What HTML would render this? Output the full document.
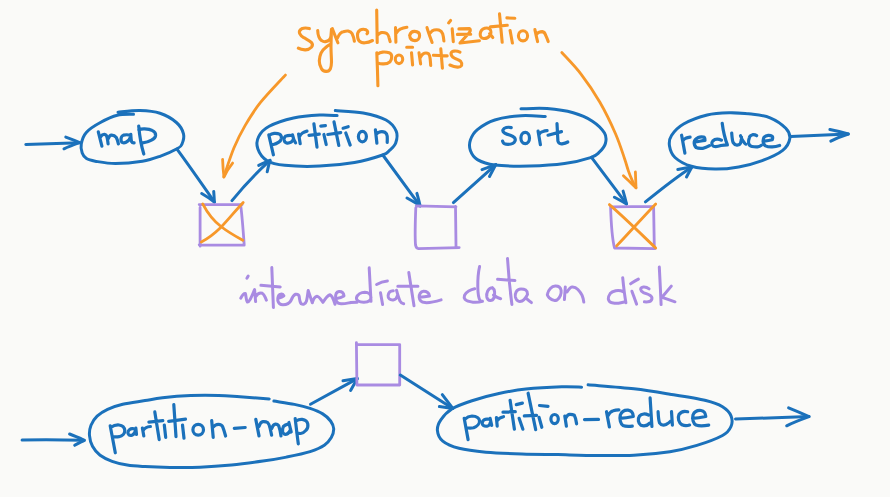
<!DOCTYPE html>
<html><head><meta charset="utf-8"><style>
html,body{margin:0;padding:0;background:#fafaf8;}
body{width:890px;height:497px;overflow:hidden;font-family:"Liberation Sans",sans-serif;}
svg{display:block;}
.b{stroke:#1b71bb;fill:none;stroke-width:3;stroke-linecap:round;stroke-linejoin:round;}
.bt{stroke:#1b71bb;fill:none;stroke-width:3.2;stroke-linecap:round;stroke-linejoin:round;}
.o{stroke:#f7982a;fill:none;stroke-width:2.8;stroke-linecap:round;stroke-linejoin:round;}
.p{stroke:#a98be2;fill:none;stroke-width:2.8;stroke-linecap:round;stroke-linejoin:round;}
</style></head><body>
<svg width="890" height="497" viewBox="0 0 890 497">
<!-- ===== top row ===== -->
<!-- input arrow -->
<g class="b">
<path d="M25.8 144.5 L79.7 142.7"/>
<path d="M65.8 137.1 C70.5 138.8 75 140.5 79.7 142.6 C74.5 144.5 69 146.5 64 148.8"/>
</g>
<!-- map ellipse -->
<path class="b" d="M118.0 112.2 C121.7 111.9 133.0 110.4 140.0 110.6 C147.0 110.8 153.9 111.3 160.0 113.3 C166.1 115.3 172.5 119.1 176.4 122.5 C180.3 125.9 182.6 130.2 183.5 133.8 C184.4 137.4 183.0 141.6 182.0 144.0 C181.0 146.4 181.2 146.4 177.5 148.5 C173.8 150.6 165.8 154.2 160.0 156.3 C154.2 158.4 149.8 160.1 142.4 161.3 C135.0 162.5 123.3 163.6 115.4 163.6 C107.5 163.6 100.0 162.0 95.2 161.2 C90.4 160.4 88.7 160.0 86.5 158.6 C84.3 157.2 83.1 155.5 82.2 153.0 C81.3 150.5 80.6 147.1 81.3 143.7 C82.0 140.3 83.1 135.9 86.3 132.4 C89.5 128.9 95.2 125.3 100.4 122.5 C105.6 119.7 111.8 116.7 117.3 115.3 C122.8 113.9 130.8 114.5 133.5 114.3"/>
<!-- map -> box1 -->
<g class="b">
<path d="M177 149.2 C186 161.5 197 177 214.4 202"/>
<path d="M201.7 193.5 C206 196 210 198.5 214.4 202 C214.2 198.5 214 195 213.7 191.4"/>
</g>
<!-- box1 -->
<path class="p" d="M199.2 204.6 L242.1 204.6 M200.1 207.5 L200.1 246.2 M240.7 205.4 C242 215 243.5 235 244.2 244.8 M199.2 244.8 L244.2 245.2"/>
<path class="o" d="M202.7 203.9 C208 214 215 222 221 226.5 C228 232 235 236 242.8 240.3 M243.2 202.5 C236 210 228 220 221 227.2 C214 234 207 239 201.3 242"/>
<!-- box1 -> partition -->
<g class="b">
<path d="M232 200.6 C243 187 255 174 270 160.4"/>
<path d="M258.7 165.4 C262.5 163.5 266 162 270 160.4 C269 164 268 168 267.2 171.7"/>
</g>
<!-- partition ellipse -->
<path class="b" d="M335.3 110.6 C339.9 111.0 354.8 111.4 363.2 113.0 C371.6 114.6 380.5 117.0 386.0 120.0 C391.5 123.0 394.7 127.5 396.3 131.3 C397.9 135.1 396.8 139.8 395.7 143.0 C394.6 146.2 391.7 148.4 389.5 150.4 C387.3 152.4 388.4 153.0 382.6 155.0 C376.8 157.0 365.0 160.7 354.5 162.5 C344.0 164.3 331.3 165.6 319.7 166.1 C308.1 166.6 293.5 166.2 284.8 165.3 C276.1 164.5 271.9 163.8 267.4 161.0 C262.9 158.2 259.2 152.9 257.8 148.8 C256.4 144.7 256.8 140.3 258.7 136.6 C260.6 132.8 263.4 129.4 269.2 126.3 C275.0 123.2 285.1 119.9 293.5 118.0 C301.9 116.1 312.4 115.4 319.7 115.0 C327.0 114.6 334.2 115.5 337.1 115.6"/>
<!-- partition -> box2 -->
<g class="b">
<path d="M382.8 155 L420.1 205.8"/>
<path d="M407 198 C411.5 200.5 416 203 420.1 205.8 C419.2 201.5 418 197.5 416.9 193.4"/>
</g>
<!-- box2 -->
<path class="p" d="M416.3 205.8 L456 206.8 M415.8 207.8 C415.3 220 415 238 415.5 245 C416 247.5 417 248.5 418.4 248.6 L459.2 247.6 M455.5 206.3 L456 246"/>
<!-- box2 -> sort -->
<g class="b">
<path d="M453.4 202.6 L495.8 164.6"/>
<path d="M482 169.6 L495.8 164.6 L489.5 176.5"/>
</g>
<!-- sort ellipse -->
<path class="b" d="M521.0 108.8 C525.4 108.8 538.4 107.9 547.1 108.6 C555.8 109.3 565.7 110.7 573.2 112.8 C580.8 114.9 587.2 117.8 592.4 121.2 C597.6 124.6 602.3 129.4 604.5 133.1 C606.7 136.8 606.3 140.3 605.4 143.5 C604.5 146.7 601.8 149.8 599.3 152.2 C596.8 154.5 596.4 155.7 590.6 157.6 C584.8 159.5 574.6 162.2 564.5 163.6 C554.4 165.0 541.3 165.8 529.7 166.1 C518.1 166.3 503.5 166.2 494.8 165.1 C486.1 164.0 481.5 162.0 477.4 159.6 C473.3 157.2 471.6 153.8 470.4 150.5 C469.2 147.2 469.2 143.5 470.4 140.0 C471.6 136.5 473.3 132.9 477.4 129.6 C481.5 126.3 487.5 122.3 494.8 120.0 C502.1 117.7 512.6 116.3 521.0 115.7 C529.4 115.1 541.2 116.4 545.3 116.5"/>
<!-- sort -> box3 -->
<g class="b">
<path d="M591.5 157.4 L626.5 203.9"/>
<path d="M614.4 197.2 C618.5 199.5 622.5 201.5 626.5 203.9 C625.5 199.5 624.3 195 623.1 191.1"/>
</g>
<!-- box3 -->
<path class="p" d="M610.9 206.8 L653.6 206.3 M610.6 207 C611 220 612 238 614.5 248 L655 248.6 M653.6 206.3 L654.3 247"/>
<path class="o" d="M609.4 204.6 C625 218 640 233 655.7 248 M655.7 203.9 C642 218 630 232 616.6 245.9"/>
<!-- box3 -> reduce -->
<g class="b">
<path d="M645.4 201.9 C660 190 675 178 691.9 166.9"/>
<path d="M677.8 169.5 C682.5 168.5 687 167.7 691.9 166.9 C690 170.3 688.3 173.5 686.5 177"/>
</g>
<!-- reduce ellipse -->
<path class="b" d="M730.8 112.8 C734.2 113.0 744.7 113.2 751.2 114.0 C757.8 114.8 764.3 115.4 770.1 117.8 C775.9 120.2 782.5 124.9 785.8 128.3 C789.1 131.8 790.3 134.8 789.8 138.5 C789.3 142.2 787.3 146.6 782.7 150.3 C778.1 154.0 769.5 157.8 762.2 160.6 C754.9 163.4 746.6 165.5 738.7 166.9 C730.9 168.3 723.0 169.2 715.1 169.1 C707.2 169.0 698.2 168.2 691.5 166.3 C684.8 164.4 678.7 160.9 675.0 157.5 C671.3 154.1 670.1 149.7 669.5 146.0 C668.9 142.3 669.1 139.2 671.5 135.5 C673.9 131.8 677.6 127.4 683.6 124.0 C689.6 120.6 699.3 116.9 707.2 115.0 C715.1 113.1 724.0 113.0 730.8 112.8 C737.6 112.6 745.1 113.6 748.0 113.8"/>
<!-- output arrow -->
<g class="b">
<path d="M790.8 136.6 L848.3 134"/>
<path d="M829.9 129.4 C836 130.5 842 132 848.3 134 C842 136 836 138.5 830.8 141.1"/>
</g>
<!-- orange sync arrows -->
<g class="o">
<path d="M285.4 75.1 C281.2 79.7 267.0 94.3 260.3 102.7 C253.6 111.1 249.6 117.9 245.2 125.4 C240.8 133.0 237.5 139.4 233.9 148.0 C230.3 156.6 225.5 172.1 223.8 176.9"/>
<path d="M222.6 159.5 C222.8 165 223.2 171 224 177 C226 172.5 229 167.5 232.6 163.1"/>
<path d="M561.8 52.5 C565.0 56.1 574.9 66.0 581.2 74.3 C587.6 82.6 594.2 92.4 599.9 102.3 C605.6 112.2 611.3 124.1 615.4 133.5 C619.5 142.9 622.4 152.3 624.5 158.5 C626.6 164.7 627.0 166.8 628.3 170.6 C629.6 174.4 631.2 178.2 632.5 181.1 C633.8 184.0 635.4 186.7 636.0 187.8"/>
<path d="M623.4 175.8 C627.5 179.5 632 184 636 187.8 C635.8 182.5 635.6 177 635.4 172"/>
</g>

<!-- ===== orange text ===== -->
<g class="o" style="stroke-width:3.1">
<path d="M309.4 28.6 C306.5 27.8 303.5 28 301.6 28.8 C299.8 29.8 299 31.5 299.6 33.3 C300.5 35.3 302 36.5 303.8 37.7 C306.5 39.3 309.5 40.5 311.3 42.3 C312.8 44 312.5 46 311.4 47.3 C309.5 49.3 307 50 305 49.9 C302.5 49.8 300 49.2 298.3 48.2"/>
<path d="M317.7 30.5 C317.8 33 318 35 318.8 36.6 C319.5 38.5 320.5 40 321.5 40.5 C323 41.5 324.5 41.8 325.4 41.6 C327.5 41.3 328.6 40.6 329.3 39.9 C330.4 38.5 331 37 331 35.5 L331.5 29.4 C331.3 36 331 42 331 47.7 C331 53 331.5 58 331.5 62 C331.4 65 331 67.5 330.4 68.7 C329.5 70.5 327.8 71.5 326 71.4 C324 71.3 322.3 70.3 321.5 68.7 C320 66 319.2 63.5 319.3 60.9 C319.4 58 320 55.5 321 53.2 C322 51 323.5 49 325.4 47.7 C326.8 46.5 328 45.6 329.3 44.9"/>
<path d="M332.4 28.7 C334 33 336 38 337.9 42.8 M337.5 38 C339 34.5 341 32 343.4 31.8 C345.5 31 347 30.8 348.1 31 C350 31.5 351.5 32.5 352 33.4 C353 35.5 354 38.5 354.4 41.2"/>
<path d="M367 33.8 C368.2 32.8 368 30.8 366 29.8 C364 29 361.5 29.3 359.9 30.2 C358 31.5 357.3 33.5 357.5 35.5 C357.6 38 358 40 359.5 41.3 C361 42.5 363 43 365 42.8 C367.5 42.6 370 41.8 372.5 40.5"/>
<path d="M376.7 10 L377.2 42.5 M377.2 35.7 C378.5 33.8 379.8 32.8 381.1 32.6 C383 32.3 385 32.6 386.6 33.4 C388 34.5 388.8 35.8 389 37.3 C389.4 39 389.8 40.5 390.2 41.6"/>
<path d="M395.5 27.6 L395.9 42.1 M396.3 33.1 C397.5 31.3 398.8 30 400.2 29.2 C402.3 28.2 404.5 27.6 406.9 27.2"/>
<path d="M409.6 35.5 C410.5 32.5 412.5 31.3 414.5 31.4 C417.5 31.5 419.6 33 419.6 35.5 C419.6 38.5 417.5 40.6 415 40.6 C412 40.6 410 38.5 409.6 35.5"/>
<path d="M427 27.6 C428.5 33 430.5 38 432.1 42.5 M430.1 33.1 C431.5 31.3 432.8 30.2 434.1 30 C435.8 29.7 437.5 29.7 438.8 30 C440.5 30.6 442 32 442.7 33.9 C443.3 36 443.7 38.5 443.9 41"/>
<path d="M448.6 22.9 L450.6 20.5 M452.2 28.8 L453.3 41.7"/>
<path d="M458.9 28.9 L469.5 28.6 C471 29.5 470.5 31.5 468.5 33.5 L460 43 L479.4 40.7 M457.4 34.4 L470.7 34.2"/>
<path d="M489.6 28.9 C488.3 28 486.5 27.8 484.8 28.3 C482.5 29 480.5 31 480.2 33.8 C480 36.2 481.5 38.3 483.8 38.5 C486 38.6 488.5 37.5 490 35.5 C491.3 33.5 491.3 30.5 489.6 28.9 M489.6 33.6 L492.8 37.5"/>
<path d="M499.5 13.9 L502.2 42.3 M490.4 26.9 L507.3 25.3"/>
<path d="M506.9 17.9 L514.8 18.3 M510.1 30.5 L512.4 43"/>
<path d="M523.0 30.7 C525.5 30.7 527.6 33.0 527.6 35.8 C527.6 38.6 525.5 40.9 523.0 40.9 C520.5 40.9 518.4 38.6 518.4 35.8 C518.4 33.0 520.5 30.7 523.0 30.7"/>
<path d="M534.9 29.6 C535.8 34 536.7 38 537.6 41.6 M536.2 34.9 C537 33.5 537.8 32.7 538.9 32.3 C540 31.8 541.2 31.6 542.2 31.6 C543.8 31.8 545 33 545.5 34.9 C546.5 37 547.5 39.5 548.2 41.6"/>
<path d="M376.8 52.7 C377.3 64 377.7 76 377.9 85.8 M377.3 54.3 C379 53 381 52.2 382.7 52.1 C385 52 387.5 52.2 389.1 52.7 C390.8 53.5 391.8 55 391.7 56.9 C391.6 59 391 60.8 390.1 61.7 C388.5 63 386 63.9 383.7 63.9 C381.5 64 379.5 63.7 378.4 63.3"/>
<path d="M399.0 55.0 C401.0 55.0 402.7 56.9 402.7 59.3 C402.7 61.7 401.0 63.6 399.0 63.6 C397.0 63.6 395.3 61.7 395.3 59.3 C395.3 56.9 397.0 55.0 399.0 55.0"/>
<path d="M406.7 47.3 L412.6 47.3 M411.5 52.7 L412.6 65"/>
<path d="M419 52.7 L420.6 63.9 M420 58 C421.2 55.5 422.7 53.6 424.3 53.2 C425.8 52.9 427.5 53 428.6 53.7 C429.7 55 430.1 57 430.2 59.1 C430.4 61.5 430.6 63.5 430.7 65.5"/>
<path d="M440.8 48.9 L442.4 68.1 M433.4 55.3 L447.2 55.9"/>
<path d="M460 52.1 C458 51.2 456 50.9 454.2 51.1 C452.3 51.5 451 52.5 451 53.7 C451 55.5 452.5 57 454.2 58 C456.5 59.3 459 60 460.6 61.2 C461.8 62.5 462 64.2 461.6 65.5 C460.8 66.7 459 67.2 457.4 67.1 C454.5 67 452 66 449.9 65"/>
</g>
<!-- ===== bottom row ===== -->
<g class="b">
<path d="M22.1 440.1 C40 439.5 65 439.8 84.3 440.3"/>
<path d="M69.6 434 C75 436 80 438.3 84.3 440.3 C81 442 77.5 443.5 74.7 445.3"/>
</g>
<!-- partition-map ellipse -->
<path class="b" d="M273.9 401.0 C277.3 401.6 288.4 403.2 294.4 404.4 C300.4 405.6 305.4 406.8 310.1 408.4 C314.8 410.0 319.3 411.8 322.7 413.9 C326.1 416.0 328.8 418.5 330.6 421.0 C332.4 423.5 333.6 426.1 333.7 428.8 C333.8 431.6 332.9 434.8 331.3 437.5 C329.7 440.2 327.8 442.9 324.3 445.3 C320.8 447.7 316.4 449.6 310.1 451.6 C303.8 453.6 294.4 455.5 286.5 457.1 C278.6 458.7 272.1 459.8 262.9 461.1 C253.7 462.4 242.0 464.0 231.5 465.0 C221.0 466.0 210.2 466.8 200.0 467.2 C189.8 467.6 179.2 467.5 170.0 467.4 C160.8 467.3 152.1 467.0 145.0 466.6 C137.9 466.2 132.7 466.0 127.2 465.1 C121.7 464.2 116.6 462.9 112.1 461.3 C107.6 459.7 103.4 457.8 100.1 455.3 C96.8 452.8 94.3 449.6 92.5 446.3 C90.7 443.0 89.8 439.2 89.5 435.7 C89.2 432.2 89.7 428.5 91.0 425.2 C92.3 421.9 94.3 418.8 97.1 416.1 C99.9 413.5 103.3 411.3 107.6 409.3 C111.9 407.3 116.5 405.8 122.7 404.3 C128.9 402.9 138.4 401.7 145.0 400.6 C151.6 399.5 154.9 398.7 162.5 397.8 C170.1 396.9 181.2 395.9 190.6 395.5 C200.0 395.1 210.5 395.2 218.7 395.4 C226.9 395.6 231.6 396.2 240.0 396.8 C248.4 397.4 264.3 398.5 269.2 398.9"/>
<!-- pm -> box4 -->
<g class="b">
<path d="M310.5 404.2 L357.3 378.6"/>
<path d="M343 380.8 L357.3 378.6 L350.6 390.4"/>
</g>
<!-- box4 -->
<path class="p" d="M356.4 342.6 L356.9 385 L399.7 385 L399.7 344.6 L356.9 344.6"/>
<!-- box4 -> pr -->
<g class="b">
<path d="M400.3 375.1 L452.8 408.5"/>
<path d="M442.3 394.6 L452.8 408.5 L439.4 406.6"/>
</g>
<!-- partition-reduce ellipse -->
<path class="b" d="M588.1 384.8 C595.7 385.5 620.3 387.2 633.9 388.8 C647.5 390.4 657.9 392.2 669.9 394.2 C681.9 396.1 697.0 398.4 705.8 400.5 C714.6 402.6 718.3 404.2 722.5 406.8 C726.7 409.4 729.6 412.5 731.0 415.8 C732.4 419.1 732.4 423.2 731.0 426.5 C729.6 429.8 728.2 432.4 722.5 435.5 C716.8 438.6 705.7 442.7 696.9 445.4 C688.1 448.1 680.4 450.1 669.9 451.7 C659.4 453.3 645.9 454.6 633.9 455.2 C621.9 455.8 610.7 455.6 598.0 455.5 C585.3 455.4 570.5 454.9 557.8 454.6 C545.1 454.4 533.9 454.4 521.9 454.0 C509.9 453.6 496.4 453.1 485.9 452.2 C475.4 451.2 466.2 450.1 459.0 448.3 C451.8 446.5 446.4 444.1 442.8 441.1 C439.2 438.1 437.7 433.9 437.4 430.3 C437.1 426.7 438.5 423.2 441.0 419.6 C443.5 416.0 447.0 412.0 452.2 408.8 C457.4 405.6 464.2 403.2 472.0 400.7 C479.8 398.1 489.9 395.4 498.9 393.5 C507.9 391.6 515.4 390.1 525.9 389.0 C536.4 387.9 552.5 387.1 561.8 386.8 C571.1 386.5 578.3 387.1 581.6 387.2"/>
<g class="b">
<path d="M735.5 419 L809 416.6"/>
<path d="M788.6 407.9 C795 410.5 802 413.5 809 416.6 C801 419.5 793 422.5 786.7 425.8"/>
</g>

<!-- ===== blue text top ===== -->
<g class="bt">
<!-- map -->
<path d="M98.3 131.9 L101.9 146.1 M100.8 136.6 C101.8 135 103 134.3 104.5 134.4 C106 134.5 106.8 136 107.2 138 C107.6 140 107.9 142 108.1 143.9 M108.1 138.8 C109 136.5 110 135.2 111.5 135.1 C113.5 135 115 135.8 116.3 137.5 C117.3 139.5 118 142 118.4 143.9"/>
<path d="M130.5 135.3 C128.5 134.7 126 134.6 123.5 135.1 C121.5 136 120.7 138.5 121.2 141 C121.8 143 124 143.3 126 142.3 C128.5 141 130 139 130.8 136.6 M130.8 134.4 C131 137 131 139.5 131.5 141.5 C132 142.5 133 142.9 134.1 142.8"/>
<path d="M138.7 126 C139.5 135 141 145 143.8 154 M138.8 130 C140.5 129 142.5 128.8 144.7 128.9 C148 129 150.5 129.5 152 130.4 C154.5 131.5 155.8 133.5 155.6 135.5 C155.3 137.5 154 138.8 152 139.8 C149 141.5 145 142.7 141.7 143.2"/>
<!-- partition -->
<path d="M268.8 134.9 L273.4 154.8 M269.2 135.3 C270.8 134.2 272.5 133.6 274.2 133.4 C276.5 133.3 278.3 133.5 279.5 134.1 C281 135 281.6 136.7 281.4 138.3 C281 140 280 141.4 278.8 142.2 C277 143.4 275.2 144.2 273.4 144.5 C272.5 144.6 271.7 144.6 271.1 144.5"/>
<path d="M290.2 135.3 C288.6 135.3 287 135.5 285.6 136.1 C284.5 137 284 138.5 284.1 139.9 C284.3 141.5 285.2 142.6 286.4 142.9 C288 143.2 289.8 142.9 291 142.2 C292.2 141.3 293 140.2 293.3 139.1 M292.5 134.9 C293 137.5 294 140.5 295.6 142.9"/>
<path d="M298.6 134.1 L300.2 143.7 M299.4 136.8 C300.2 135 301.3 133.8 302.5 133 C304 132 305.5 131.5 307 131.1"/>
<path d="M313.9 123.8 L317 147.1 M309 135.3 L319.3 134.1"/>
<path d="M320.8 126.1 L325.4 125.7 M323.9 134.5 L326.2 144.5"/>
<path d="M334 121.9 L338.8 145.5 M327.8 134.5 L340.7 132.6"/>
<path d="M343.1 128.2 L348.2 126.7 M345.8 133 L350.2 145.1"/>
<path d="M362.4 131.4 C364.6 131.4 366.4 133.7 366.4 136.6 C366.4 139.5 364.6 141.8 362.4 141.8 C360.2 141.8 358.4 139.5 358.4 136.6 C358.4 133.7 360.2 131.4 362.4 131.4"/>
<path d="M375.4 129.8 L376.9 143.2 M376.1 134.5 C377.3 133 378.6 132 380.1 131.8 C382 131.6 383.7 131.7 384.8 132.2 C386.3 133.2 387 134.6 387.2 136.1 C387.4 138.5 387.3 140.5 387.2 142.4"/>
<!-- sort -->
<path d="M511.2 127.6 C508 126.8 504 127.5 503 129.8 C502 132.5 506 134 510.3 135.2 C514 136.5 516 138.5 515 141 C514 143.5 510 144.6 505.8 144.2 C504 144 503 142.5 502.6 141.1"/>
<path d="M525.2 132.4 C527.6 132.4 529.5 134.9 529.5 138.0 C529.5 141.1 527.6 143.6 525.2 143.6 C522.8 143.6 520.9 141.1 520.9 138.0 C520.9 134.9 522.8 132.4 525.2 132.4"/>
<path d="M538.1 131.2 L540.4 144.7 M539 134.8 C539.5 133 541 132 543 131.5 C544.5 131 546 130.8 547.1 130.7"/>
<path d="M557 123.5 L557.9 141 C558.5 143.5 560 144 562 143.8 C564 143.5 566 143 567.8 142 M548 135.2 L561.5 131.6"/>
<!-- reduce -->
<g transform="translate(0,1.6)">
<path d="M681.6 133.6 L684.9 151.5 M682.7 139.6 C683.5 137.8 684.5 137 685.7 136.6 C687 136 688.5 135.7 690.1 135.5"/>
<path d="M695.4 140.3 C698.5 139.8 702 139.3 705 138.8 C705 137 704.5 135.8 703.6 135.5 C701.5 135 699.5 135.3 698.3 135.9 C696 137 694.5 138.5 694.2 140.3 C694 142.5 695 144.8 696.1 145.9 C698 146.8 700.5 146.9 702.8 146.7 C705.5 146.3 707.5 145.3 709.5 144.1"/>
<path d="M721.5 138.6 C718.5 137.3 714.8 137.4 712.8 139.4 C711.2 141.2 711.6 143.8 713.6 144.7 C716 145.4 719 144.6 721 143.9 C723.5 143.4 725.5 143.3 727.4 143.3 M722.2 121.7 C723 128 724.5 136 727.4 143.3"/>
<path d="M731.7 131.4 C732 135 732.3 139 733.1 140.9 C734.5 143 735.8 143.7 737.1 143.6 C739 143.3 740.3 142 740.5 141.6 C741.2 139.5 741.5 137.5 741.5 135.5 M740.5 134.1 C741.5 137 743 140 744.6 141.6 C745 142.2 745.5 142.5 745.9 142.6"/>
<path d="M756.7 134.1 C755.5 133.3 754 133 752.6 133.1 C750.5 133.6 749.5 135 749.3 136.2 C748.6 138 748.4 140 748.6 141.6 C749.2 143.6 750.5 144.6 752 144.9 C754 145.3 755.8 145.4 757.4 145.3 C759 145 760.3 144.4 761.4 143.6"/>
<path d="M764.1 139.5 C767 139.2 769.8 138.8 772.2 138.2 C772.8 136.8 772.8 135.5 772.2 134.8 C771 134 769.5 133.7 768.2 133.8 C766.5 134 765 134.7 764.1 135.5 C763.2 137 763 138.7 763.1 140.2 C763.4 142 764.2 143.5 765.5 144.3 C767.5 145.2 770 145.4 772.2 145.3 C775 145.2 777.5 144.6 779.6 143.9"/>
</g>
</g>
<!-- ===== purple text ===== -->
<g class="p" style="stroke-width:3.0">
<!-- intermediate -->
<path d="M246.9 278.2 L248.2 276"/>
<path d="M240.8 298.2 C242 295.5 243.8 293.3 245.3 293.4 C246.3 296 245.8 300 247.4 302 C249.5 302.2 251.8 296 254.6 289.6 L255.6 301.6 M255.7 296.8 C257.5 293.8 260 292.6 262.3 293.3 C264.2 294.2 265.2 297 266.4 300.2"/>
<path d="M271.8 267.6 L273.4 307.5 M260.9 285.3 L280.2 286.9"/>
<path d="M278.2 298.2 C280.5 297.5 282.5 296.8 283.9 295.7 C283 294.2 281.5 293.8 280 294.3 C278.5 295 277.6 297.5 277.8 300.6 C278.5 303.5 280.5 304.8 283 304.8 C286.5 304.8 289.5 303.5 291 300.5 C292.3 297.3 293 295.5 295.6 294.2 C297.8 294 299 295 299.2 296.5 C299.5 299.5 299.8 302 301.2 303.8 C303.2 305 305.5 304 306.5 301 C307.5 297 307.8 293 308.2 290.5 L312.3 302.8 C313.2 299.5 315 296.5 317 296.2 C319 296.3 320.5 298.8 323 302.3 C325 299 327.5 295.3 330 294.7 C332.3 295.3 333.5 299.5 335 304.3"/>
<path d="M335.5 298.8 C338.5 298.2 341.5 297.5 344 296 C343.7 293 341.5 291.5 339 291.6 C336.5 292 335.3 295 335.6 298.5 C336 301.5 338 303.6 341 303.8 C344.5 304 348 303 350.7 302.5 C353 302.2 355 302.2 357 302.2"/>
<path d="M371 297.5 C371 294.5 368.5 292.3 364.9 292.2 C361 292.2 357.5 294.5 356.5 297.5 C356 300.5 359 302.3 364 302.2 C368 302.1 371 300.5 371 297.5 M369.2 267.8 C369.8 280 370.5 292 371 301.3"/>
<path d="M380.5 292.7 L382.6 304.4 M376.6 284.5 C380 282.5 384 281.3 387.4 281"/>
<path d="M393.3 290.8 C390.5 290.8 388.5 292.5 388.1 295.5 C387.8 298.5 390 300.2 393.3 299.9 C395.5 299.6 396.8 298 397.2 296 M396.5 290.2 C397.5 294 398.8 298.5 400 301 C401 302.8 402.5 303.6 403.7 303.8"/>
<path d="M408.8 272.6 L414 305.7 M397.8 286.3 L417.9 286.3"/>
<path d="M419.2 297.3 C422.5 297.1 426 296.7 429.5 296 C429.5 293 426.5 291.2 423.5 291.3 C420.5 291.5 419 294.5 419.2 297.3 C419.5 300.5 421.5 302.3 425 302.6 C430 303 436 301.5 441.1 299.9"/>
<!-- data -->
<path d="M479.6 266.5 C478.3 272 477.7 280 477.8 287 C477.9 293 478.5 298 480 300.3 C480.8 301.2 481.8 301.5 482.5 301.3 C479.5 302.2 476 302.5 473 302.2 C469.5 301.8 466.5 301 465.2 299.6 C464 298 464 296.5 464.5 295.3 C465.5 293 467 292 468.7 291 C470.5 290 472.5 289.2 474.7 288.8"/>
<path d="M492.5 287.8 C490.5 287.8 488.8 289 487.7 291 C486.7 293 486.5 295 486.8 297 C487.2 299 488.5 300.5 490.3 300.5 C492 300.5 493.3 299.5 493.9 297.9 C494.6 296 494.8 294 494.6 292 C494.4 290 493.5 288.5 492.5 287.8 M493.5 295 C495.5 296.5 498 298 500.7 298.7"/>
<path d="M507.5 258.5 C508.5 275 510 290 511.9 304.4 M497.6 279.3 L514.9 280.6"/>
<path d="M521 289 C519 289 517 290.3 516.2 291.8 C515.3 293.5 515.1 295.5 515.4 297 C516 299.5 517.3 301 518.8 301.3 C520.8 301.6 522.8 300.8 524 299.6 C525.7 298 526.8 296 527.5 294.4 C527.5 292.5 526.8 290.8 525.7 290.1 C524.5 289.3 522.8 289 521 289 M525.7 297.9 C527.5 299.5 529.5 301.3 531.4 302.6"/>
<!-- on -->
<path d="M555.2 286.1 C558 286 560.5 287.5 561.1 290.3 C561.6 293.5 560 298 557 300 C554.5 301 551.5 300 549.3 297.9 C547.5 296 547 294.5 547.6 293.7 C548.5 290 551.5 286.3 555.2 286.1"/>
<path d="M565.3 287 L564.4 299.6 M567 292 C568.5 289.5 570 287.3 572 287 C574.5 286.8 576.5 288 577.9 289.5 C579.8 291.5 581.2 293.5 582.1 295.4 C583 297.5 583.5 300 583.8 302.1"/>
<!-- disk -->
<path d="M623.1 291.6 C621 290.5 618.5 290.3 615.7 290.7 C613 291.3 611 292.5 610.2 293.5 C608.8 295.5 608.3 297.5 608.3 299 C608.8 301.5 610.3 302.6 612 302.7 C614.5 303.2 616.5 303.3 618.5 303.2 C620.8 302.9 623 302.3 625 301.8 M622.7 277.7 C623.5 286 624.5 295 625.9 302.7"/>
<path d="M630.6 283.8 C633 282.3 635.8 280.5 638.4 279.1 M631.9 291.2 C633.5 295.5 635 300 636.6 304.1"/>
<path d="M649.1 288.9 C647.5 287.6 645.5 286.8 643.5 287 C641.8 287.2 640.7 288.2 640.7 289.3 C640.8 290.8 642 291.8 643.5 292.6 C645.5 293.5 648 294.3 650 295.3 C651.5 296.3 652.2 297.7 651.9 299 C651.4 300.8 649.8 301.7 648.1 301.8 C646.8 301.9 645.5 301.9 644.4 301.8"/>
<path d="M659.3 267.1 C660 280 660.6 292 661.1 304.6 M671.3 286.1 L662 297.2 C666 298.8 670.5 300.3 675 301.8"/>
</g>
<!-- ===== blue text bottom ===== -->
<g class="bt">
<!-- partition-map -->
<path d="M110.2 425.8 L115.3 452.8 M111 427.2 C113.5 425.5 116.5 424.8 119 425 C122.5 425.3 124.5 427.5 124.8 430.5 C125 433.5 122.5 436 119 436.7 C117 437 115 437 113.1 436.7"/>
<path d="M132.9 428.7 C130.5 428.3 128.3 429.8 127.9 432.5 C127.6 434.5 129.5 435.8 132 435.2 C134 434.5 135.2 432.5 135.5 430 M135.8 428 L136.5 434.5"/>
<path d="M142.4 428 L143.8 436 M143.1 430.5 C144.3 428.3 146.5 426.8 150.4 426.5"/>
<path d="M154.8 411.9 L159.2 439.6 M148.9 422.1 L162.8 420.6"/>
<path d="M164.3 425 L165.7 437.4"/>
<path d="M173.8 404.6 L176 436.7 M168.7 421.4 L185.5 419.2"/>
<path d="M182.5 425 L184 438.2"/>
<path d="M198.2 424.3 C201.1 424.3 203.5 426.7 203.5 429.7 C203.5 432.7 201.1 435.1 198.2 435.1 C195.3 435.1 192.9 432.7 192.9 429.7 C192.9 426.7 195.3 424.3 198.2 424.3"/>
<path d="M211.7 420.6 L213.2 437.4 M213.2 427.2 C214.5 425.3 216.3 424.3 218.3 424.3 C220.5 424.3 222 425 222.7 426.8 C223.8 429.5 224.8 433 225.6 436"/>
<path d="M234.3 428.4 L245.2 427.5"/>
<path d="M255.8 419.4 L259 435.9 M259 426.5 C260 423.5 261.5 421.8 262.9 421.7 C265 421.6 266.8 422 267.6 422.5 C269 424 269.7 426 270 428 C270.6 430.5 271.2 433 271.6 435.1 M271.6 428.8 C272.5 426 274 424.2 275.5 424.1 C277 424 278 424.8 278.7 425.7 C279.7 428.5 280.5 432.5 281 435.9"/>
<path d="M288.1 424.1 C286.3 424.5 284.6 425.3 283.4 426.5 C282.5 428.3 282.3 430.5 282.6 432 C283.3 433.8 285 434.6 286.5 434.3 C288.5 433.5 289.8 431.6 290.5 429.6 M288.9 422.5 C289.6 425.5 290.4 429 291.2 432"/>
<path d="M295.2 418.6 C296.2 427 297.2 436 298.3 443.8 M296 421 C298 419.8 300 419.2 302.2 419.4 C305 419.8 307.3 421.5 307.8 424.1 C308.2 426.8 307.5 429 306 430.3 C304.5 432 302.5 433.3 300.7 433.5 C299 433.6 297.8 433.2 296.7 432.8"/>
<!-- partition-reduce -->
<path d="M464.2 418.3 L468.1 439.6 M465 419.1 C467 417.2 469.5 416.2 472 416 C476 416.2 479 417.5 479.5 420.5 C479.9 423.5 477 426.5 473.6 427.8 C471 428.3 468.5 428.2 466.5 427.8"/>
<path d="M487.8 419.1 C485 418.8 482.5 420.2 482.2 422.8 C482 425 484 426.6 487 426.2 C489 425.8 490 424.3 490.1 423 M490.1 418.3 L491.7 425.4"/>
<path d="M496.4 417.5 L497.2 426.2 M497.2 420.7 C498.2 418.8 499.6 417.6 503.5 416.7"/>
<path d="M510.1 400.3 L514.4 429.2 M503 412.1 L515.3 411.7"/>
<path d="M516.3 404.6 L522.4 403.1 M519.1 418.3 L522.9 429.2"/>
<path d="M528.1 393.2 L535.7 429.6 M524.3 415.9 L536.6 415.4"/>
<path d="M539.5 405.5 L548 406.4 M539 417.3 L541.8 427.3"/>
<path d="M554.6 414.5 C556.6 414.5 558.3 416.6 558.3 419.1 C558.3 421.6 556.6 423.7 554.6 423.7 C552.6 423.7 550.9 421.6 550.9 419.1 C550.9 416.6 552.6 414.5 554.6 414.5"/>
<path d="M564.8 416 L566.4 426.2 M565.6 418.3 C566.8 416 568 414.5 569.6 414.4 C572 414.3 573.5 414.8 574.3 415.2 C575.6 417.5 576.2 420.5 576.6 423.8"/>
<path d="M584.5 419.6 L598.5 419.4"/>
<path d="M606.5 411.7 L609.4 427 M607.5 416.5 C609 413.5 610.8 411.5 613.2 410.8 C615 410.2 617 409.9 618.9 409.8"/>
<path d="M619.9 418.4 C624.5 418 629 417.3 633.3 416.5 C633 413 631.5 410.5 628 410.2 C624.5 410 621.5 412 620.3 415 C619.3 419 620.5 423.8 623 425.5 C626 426.8 629.5 426.4 632.3 426.1"/>
<path d="M648.5 415 C645.5 413.5 641.5 413.5 639.5 416 C637.5 419 638 423.5 641 425.3 C644 426.5 647.5 425.5 650 423 M650.1 397.8 L651.9 426.5"/>
<path d="M658.1 411.7 C658.3 416 658.5 420 659.5 422.8 C661 425 663.5 425.5 666 424.5 C668 423.5 669.5 422.5 670.5 421.3 M671.5 411.7 L672.4 425.1"/>
<path d="M687.7 411.7 C684.5 410.8 681 411.5 679 414.5 C677.5 418 678.5 422.5 682 424.8 C684.5 426 687.5 425.8 689.6 425.1"/>
<path d="M692.5 418.4 C697 418 701.5 417.3 705.8 416.5 C705.5 413 704.5 411 701 410.5 C697.5 410.2 694.2 412 693 415 C692 419 693.3 423.5 696 425 C699.5 426.3 704.5 425.8 708.7 425.1"/>
</g>
</svg>
</body></html>
